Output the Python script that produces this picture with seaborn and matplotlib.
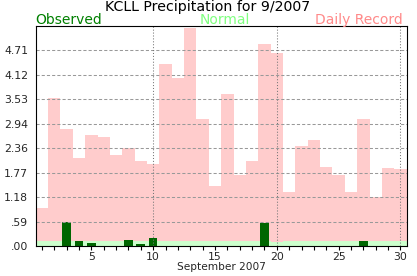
import matplotlib
matplotlib.use("Agg")
import matplotlib.pyplot as plt
import seaborn as sns
import pandas as pd

# ---- data ----
days = list(range(1, 31))
record = [0.92, 3.57, 2.82, 2.13, 2.67, 2.63, 2.19, 2.36, 2.05, 1.98,
          4.39, 4.05, 5.25, 3.06, 1.45, 3.66, 1.71, 2.05, 4.87, 4.66,
          1.30, 2.41, 2.55, 1.90, 1.71, 1.30, 3.06, 1.18, 1.88, 1.86]
normal = [0.12] * 19 + [0.10] + [0.12] * 10
observed = [0, 0, 0.58, 0.13, 0.08, 0, 0, 0.15, 0.06, 0.20,
            0, 0, 0, 0, 0, 0, 0, 0, 0.55, 0,
            0, 0, 0, 0, 0, 0, 0.12, 0, 0, 0]
y_max = 5.30
ytick_values = [0, 0.589, 1.178, 1.767, 2.356, 2.944, 3.533, 4.122, 4.711]
ytick_labels = [".00", ".59", "1.18", "1.77", "2.36", "2.94", "3.53", "4.12", "4.71"]
xtick_labels = ["5", "10", "15", "20", "25", "30"]
title = "KCLL Precipitation for 9/2007"
xlabel = "September 2007"

df = pd.DataFrame({"day": days, "record": record, "normal": normal, "observed": observed})

sns.set_theme(style="white")
plt.rcParams["font.family"] = ["DejaVu Sans"]

fig = plt.figure(figsize=(4.17, 2.76), dpi=100)
ax = fig.add_axes([35.7 / 417, 1 - 246 / 276, (406.6 - 35.7) / 417, 220 / 276])

sns.barplot(data=df, x="day", y="record", native_scale=True, width=1.0,
            color="#ffcccc", saturation=1, linewidth=0, ax=ax, zorder=1)
sns.barplot(data=df, x="day", y="normal", native_scale=True, width=1.0,
            color="#ccffcc", saturation=1, linewidth=0, ax=ax, zorder=2)
sns.barplot(data=df, x="day", y="observed", native_scale=True, width=0.7,
            color="#006600", saturation=1, linewidth=0, ax=ax, zorder=3)

ax.set_xlim(0.5, 30.5)
ax.set_ylim(0, y_max)

# grid lines
for v in ytick_values[1:]:
    ax.axhline(v, color="#999999", lw=0.75, ls=(0, (3, 2)), zorder=4)
for d in [10, 20, 30]:
    ax.axvline(d, color="#777777", lw=0.75, ls=(0, (1, 1.8)), zorder=4)

ax.set_yticks(ytick_values)
ax.set_yticklabels(ytick_labels, fontsize=7.8)
ax.set_xticks(days)
ax.set_xticklabels([str(d) if str(d) in xtick_labels else "" for d in days], fontsize=7.8)
ax.tick_params(axis="x", direction="out", length=3, width=0.8, pad=1.5, color="black", bottom=True)
ax.tick_params(axis="y", length=0, pad=5.5, left=False)
ax.set_xlabel(xlabel, fontsize=7.6, labelpad=0)
ax.set_ylabel("")

for s in ax.spines.values():
    s.set_visible(True)
    s.set_color("black")
    s.set_linewidth(0.8)
    s.set_zorder(6)

fig.text(0.497, 1 - 11 / 276, title, ha="center", va="baseline", fontsize=10.2, color="black")
fig.text(35 / 417, 1 - 24.3 / 276, "Observed", ha="left", va="baseline", fontsize=10, color="#008000")
fig.text(224.5 / 417, 1 - 24.3 / 276, "Normal", ha="center", va="baseline", fontsize=10, color="#80ff80")
fig.text(403 / 417, 1 - 24.3 / 276, "Daily Record", ha="right", va="baseline", fontsize=10, color="#ff8a8a")

fig.savefig("out.png", dpi=100, facecolor="white")
